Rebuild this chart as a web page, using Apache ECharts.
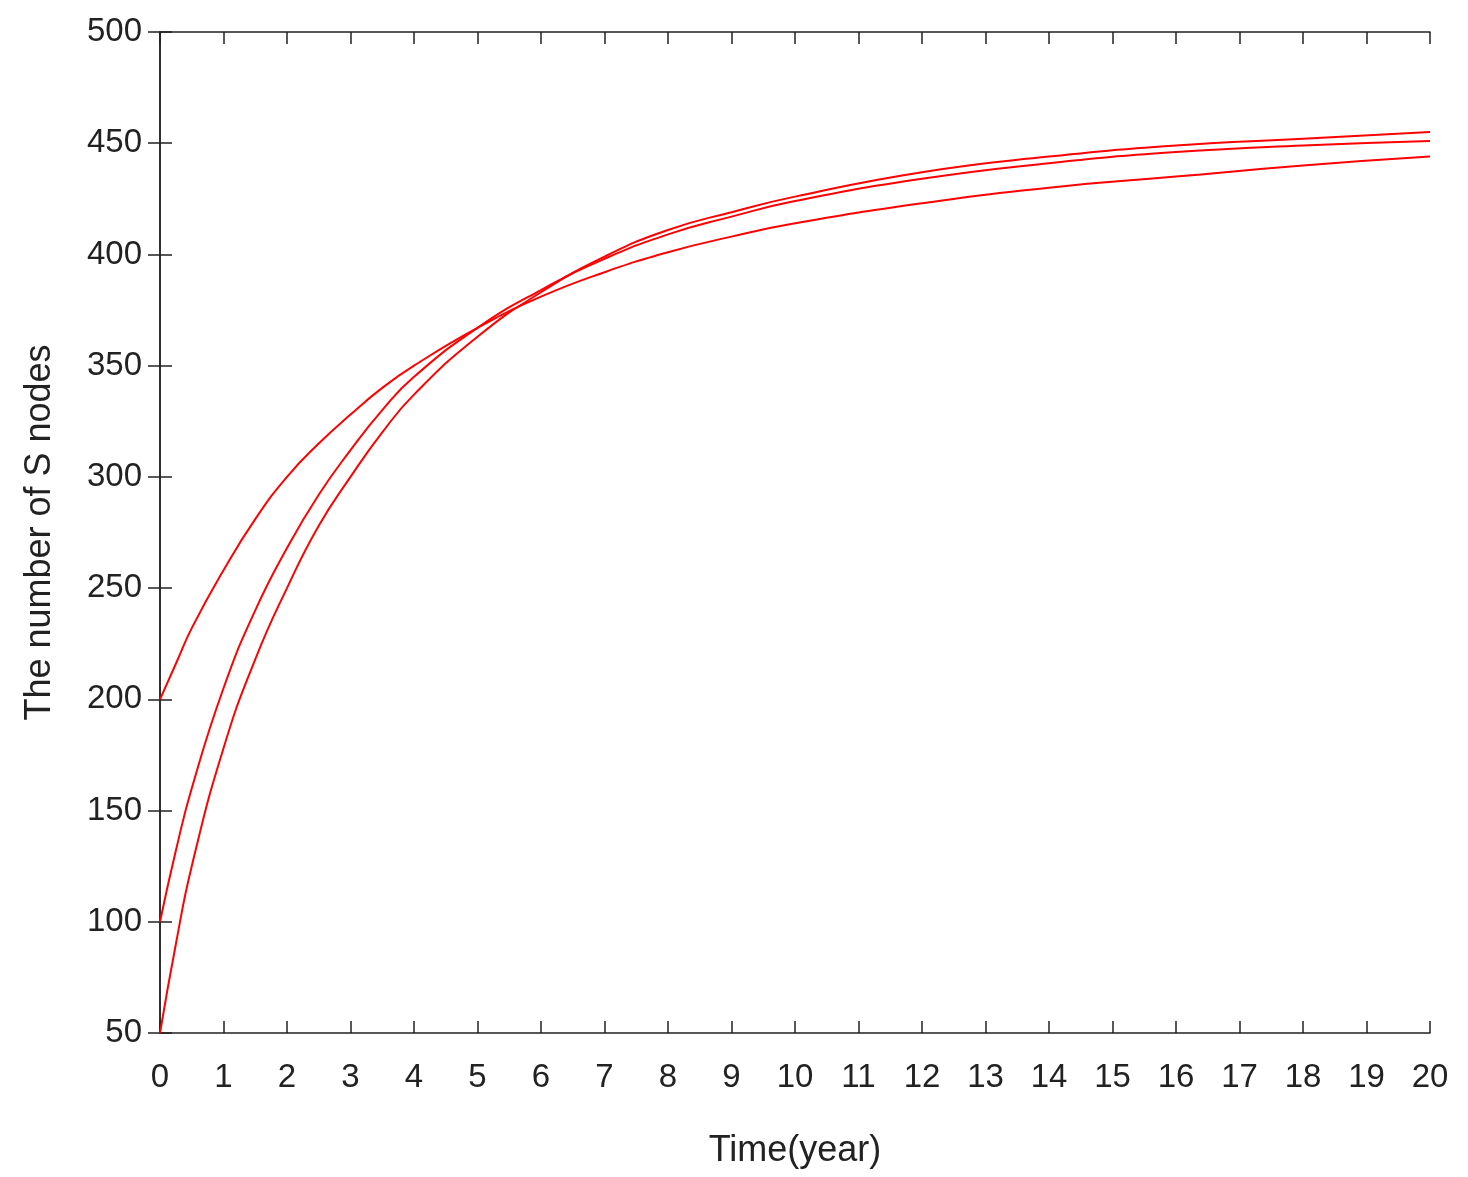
<!DOCTYPE html>
<html>
<head>
<meta charset="utf-8">
<script src="https://cdn.jsdelivr.net/npm/echarts@6/dist/echarts.min.js"></script>
<style>html,body{margin:0;padding:0;background:#fff}#chart{width:1468px;height:1177px}</style>
</head>
<body>
<div id="chart"></div>
<script>
// values
var years = [0, 0.25, 0.5, 1, 1.5, 2, 2.5, 3, 3.5, 4, 5, 6, 7, 8, 9, 10, 12, 14, 16, 18, 20];
var s200 = [200, 216, 232, 258, 281, 300, 315, 328, 340, 350, 367, 381, 392, 401, 408, 414, 423, 430, 435, 440, 444];
var s100 = [100, 132, 160, 205, 240, 268, 292, 312, 330, 345, 367, 384, 398, 409, 417, 424, 434, 441, 446, 449, 451];
var s50 = [50, 90, 125, 178, 218, 250, 278, 300, 320, 337, 363, 383, 399, 411, 419, 426, 437, 444, 449, 452, 455];

function pairs(v) { return years.map(function (x, i) { return [x, v[i]]; }); }

var chart = echarts.init(document.getElementById('chart'));
var font = 'Liberation Sans';
var line = { show: true, lineStyle: { color: '#222', width: 1.5 } };
var tick = { show: true, inside: true, length: 12, lineStyle: { color: '#222', width: 1.5 } };
var lbl = { fontSize: 33, color: '#222', fontFamily: font };

function mk(name, v) {
  return { name: name, type: 'line', smooth: 0.5, showSymbol: false, data: pairs(v),
    lineStyle: { color: '#ff0000', width: 2 }, animation: false };
}

chart.setOption({
  animation: false,
  grid: { left: 160, right: 38, top: 32, bottom: 144 },
  xAxis: [{
    type: 'value', min: 0, max: 20, interval: 1,
    name: 'Time(year)', nameLocation: 'middle', nameGap: 100,
    nameTextStyle: { fontSize: 36, color: '#222', fontFamily: font },
    axisLine: line, axisTick: tick, splitLine: { show: false },
    axisLabel: Object.assign({ margin: 28 }, lbl)
  }, {
    type: 'value', min: 0, max: 20, interval: 1, position: 'top',
    axisLine: line, axisTick: tick, splitLine: { show: false }, axisLabel: { show: false }
  }],
  yAxis: [{
    type: 'value', min: 50, max: 500, interval: 50,
    name: 'The number of S nodes', nameLocation: 'middle', nameGap: 102,
    nameTextStyle: { fontSize: 36, color: '#222', fontFamily: font },
    axisLine: line, axisTick: tick, splitLine: { show: false },
    axisLabel: Object.assign({ margin: 18 }, lbl)
  }, {
    type: 'value', min: 50, max: 500, interval: 50, position: 'right',
    axisLine: line, axisTick: tick, splitLine: { show: false }, axisLabel: { show: false }
  }],
  series: [mk('S0=200', s200), mk('S0=100', s100), mk('S0=50', s50)]
});
</script>
</body>
</html>
